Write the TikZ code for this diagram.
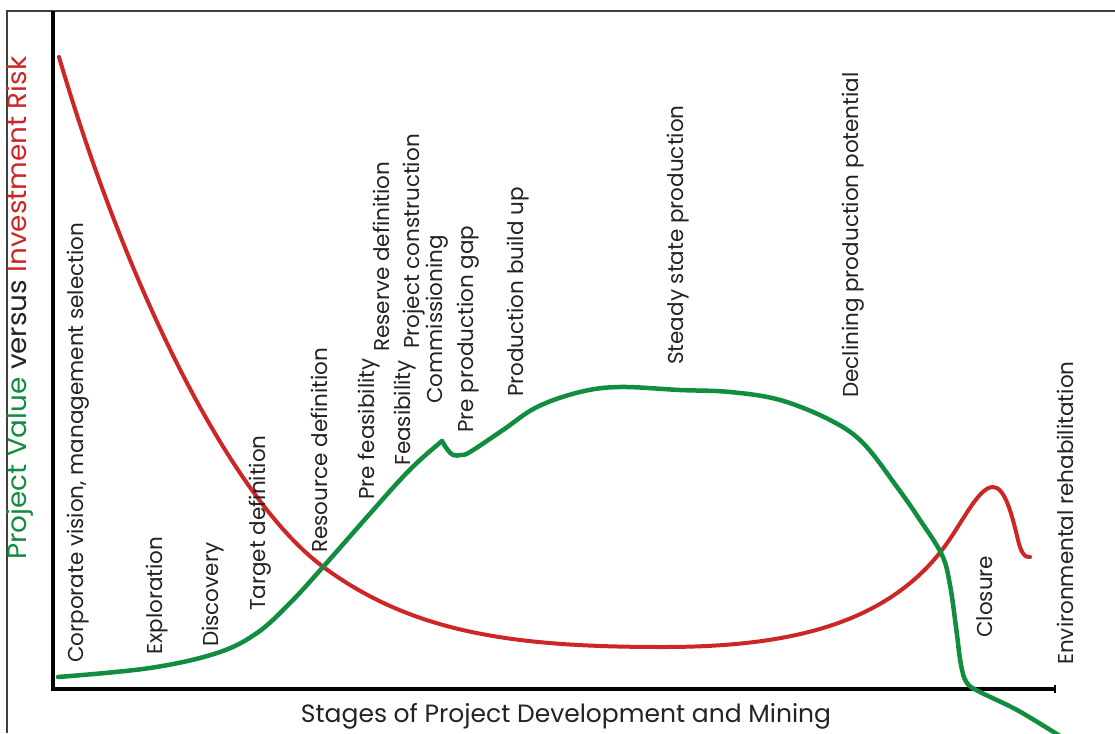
\documentclass[tikz,border=0pt]{standalone}
\usepackage{fontspec}
\setmainfont{Poppins}
\definecolor{riskred}{RGB}{205,38,38}
\definecolor{valgreen}{RGB}{18,140,62}
\definecolor{ink}{RGB}{35,35,35}
\begin{document}
\begin{tikzpicture}[x=1pt,y=-1pt,
  stage/.style={rotate=90,anchor=west,inner sep=0pt,font=\fontsize{21.5}{21.5}\selectfont,text=ink},
  axtitle/.style={inner sep=0pt,text=ink},
  curve/.style={line width=4pt,line cap=round,line join=round}]
\useasboundingbox (0,0) rectangle (1115,733);
\fill[white] (0,0) rectangle (1115,733);
% frame
\draw[line width=1.2pt,black!75] (7,733) -- (7,11) -- (1115,11);
% axes
\coordinate (top) at (53,11);
\coordinate (origin) at (53,689);
\coordinate (xend) at (1055,689);
\draw[line width=4pt,line join=miter] (top) -- (origin) -- (xend);
\draw[line width=1.2pt] ([yshift=-4pt]xend) -- ([yshift=4pt]xend);
% risk curve
\draw[riskred,curve] (59,57)
  .. controls (129,295) and (232,498) .. (322,566)
  .. controls (412,633) and (513,647) .. (663,647)
  .. controls (780,647) and (882,628) .. (942,550)
  .. controls (962,524) and (978,487) .. (993,487)
  .. controls (1005,487) and (1012,515) .. (1018,540)
  .. controls (1021,553) and (1025,558) .. (1030,557);
% value curve
\draw[valgreen,curve,line width=4.5pt] plot[smooth,tension=0.6] coordinates {(58,677) (150,668) (217,653) (257,633) (290,603) (323,567) (367,517) (400,480) (420,460) (442,441)};
\draw[valgreen,curve,line width=4.5pt] plot[smooth,tension=0.6] coordinates {(442,441) (447,449) (453,455) (461,455) (470,452) (503,430) (537,407) (580,392) (620,387) (680,390) (730,392) (780,400) (830,420) (863,443) (897,487) (920,520) (942,555) (950,585) (956,627) (961,665) (967,683) (980,692) (1017,710) (1060,736)};
% stage labels
\node[stage] (s1) at (78,663) {Corporate vision, management selection};
\node[stage] (s2) at (157,655) {Exploration};
\node[stage] (s3) at (213,647) {Discovery};
\node[stage] (s4) at (260,611) {Target definition};
\node[stage] (s5) at (319,553) {Resource definition};
\node[stage] (s6) at (369,500) {Pre feasibility};
\node[stage] (s7) at (381,352) {Reserve definition};
\node[stage] (s8) at (405,466) {Feasibility};
\node[stage] (s9) at (414,349) {Project construction};
\node[stage] (s10) at (437,404) {Commissioning};
\node[stage] (s11) at (468,433) {Pre production gap};
\node[stage] (s12) at (518,397) {Production build up};
\node[stage] (s13) at (678,365) {Steady state production};
\node[stage] (s14) at (853,398) {Declining production potential};
\node[stage] (s15) at (985,638) {Closure};
\node[stage] (s16) at (1065,665) {Environmental rehabilitation};
% axis titles
\node[axtitle,rotate=90,anchor=west,font=\fontsize{26.5}{26.5}\selectfont] (ytitle) at (20,560) {\scalebox{1.05}[1]{{\color{valgreen}Project Value} versus {\color{riskred}Investment Risk}}};
\node[axtitle,font=\fontsize{25}{25}\selectfont] (xtitle) at (566,716) {Stages of Project Development and Mining};
\end{tikzpicture}
\end{document}
